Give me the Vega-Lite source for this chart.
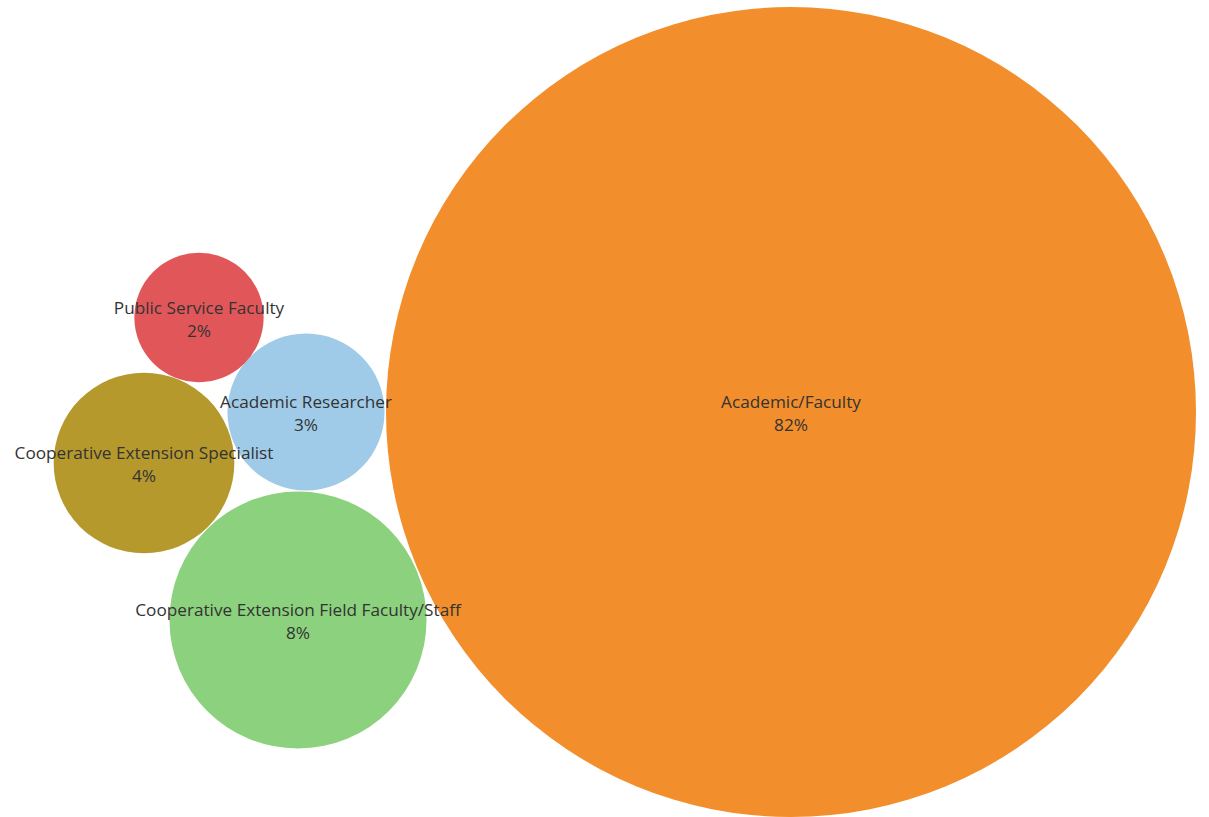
{
  "$schema": "https://vega.github.io/schema/vega-lite/v6.json",
  "width": 1209,
  "height": 817,
  "autosize": {"type": "fit", "contains": "padding"},
  "padding": 0,
  "background": "white",
  "config": {"view": {"stroke": null}},
  "data": {
    "values": [
      {"role": "Academic/Faculty", "share": 0.824, "bx": 791, "by": 412},
      {"role": "Cooperative Extension Field Faculty/Staff", "share": 0.083, "bx": 298, "by": 620},
      {"role": "Cooperative Extension Specialist", "share": 0.041, "bx": 144, "by": 463},
      {"role": "Academic Researcher", "share": 0.031, "bx": 306, "by": 412},
      {"role": "Public Service Faculty", "share": 0.021, "bx": 199, "by": 317.5}
    ]
  },
  "encoding": {
    "x": {"field": "bx", "type": "quantitative", "scale": {"domain": [0, 1209], "nice": false, "zero": false}, "axis": null},
    "y": {"field": "by", "type": "quantitative", "scale": {"domain": [0, 817], "nice": false, "zero": false, "reverse": true}, "axis": null}
  },
  "layer": [
    {
      "mark": {"type": "circle", "opacity": 1},
      "encoding": {
        "size": {"field": "share", "type": "quantitative", "scale": {"type": "linear", "domain": [0, 0.824], "range": [0, 656100], "zero": true}, "legend": null},
        "color": {
          "field": "role", "type": "nominal", "legend": null,
          "scale": {
            "domain": ["Academic/Faculty", "Cooperative Extension Field Faculty/Staff", "Cooperative Extension Specialist", "Academic Researcher", "Public Service Faculty"],
            "range": ["#F28E2B", "#8CD17D", "#B6992D", "#A0CBE8", "#E15759"]
          }
        }
      }
    },
    {
      "mark": {"type": "text", "baseline": "middle", "align": "center", "dy": -9, "font": "Open Sans", "fontSize": 17.2, "color": "#333333"},
      "encoding": {"text": {"field": "role", "type": "nominal"}}
    },
    {
      "mark": {"type": "text", "baseline": "middle", "align": "center", "dy": 14, "font": "Open Sans", "fontSize": 17.2, "color": "#333333"},
      "encoding": {"text": {"field": "share", "type": "quantitative", "format": ".0%"}}
    }
  ]
}
